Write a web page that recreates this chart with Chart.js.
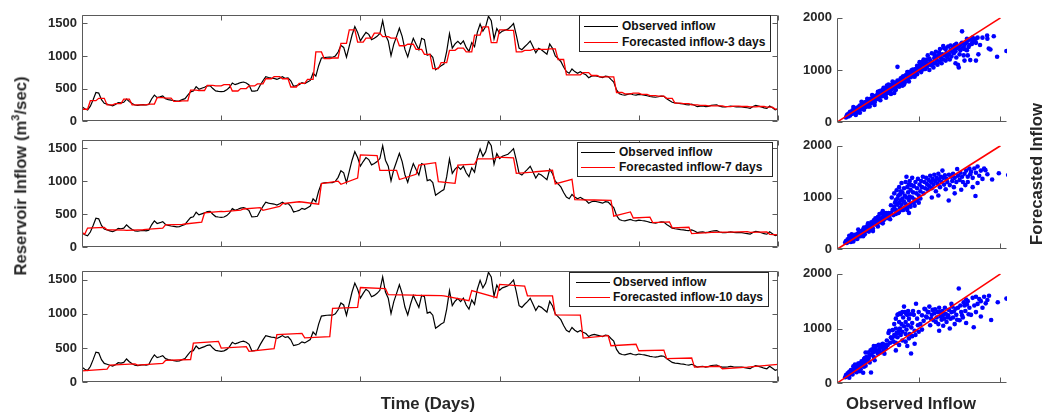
<!DOCTYPE html>
<html>
<head>
<meta charset="utf-8">
<script src="https://cdn.jsdelivr.net/npm/chart.js@4.4.1/dist/chart.umd.min.js"></script>
<style>
body { margin: 0; width: 1043px; height: 418px; background: #fff; position: relative; overflow: hidden; font-family: "Liberation Sans", Arial, sans-serif; color: #262626; }
canvas { position: absolute; }
.lg { position: absolute; border: 1px solid #262626; background: #fff; font-weight: bold; font-size: 12px; color: #111; }
.lg div { position: absolute; left: 0; height: 14px; display: flex; align-items: center; white-space: nowrap; }
.lg i { display: inline-block; width: 34px; height: 0; border-top: 1.5px solid; }
.t { position: absolute; font-weight: bold; font-size: 16.7px; white-space: nowrap; transform: translate(-50%, -50%); }
.t.rot { transform: translate(-50%, -50%) rotate(-90deg); }
</style>
</head>
<body>
<canvas id="p1" width="760" height="132" style="left:30px;top:2px"></canvas>
<canvas id="p2" width="760" height="133" style="left:30px;top:127px"></canvas>
<canvas id="p3" width="760" height="137" style="left:30px;top:258px"></canvas>
<canvas id="s1" width="220" height="130" style="left:792px;top:5px"></canvas>
<canvas id="s2" width="220" height="129" style="left:792px;top:133px"></canvas>
<canvas id="s3" width="220" height="135" style="left:792px;top:261px"></canvas>

<div class="lg" style="left:579px;top:15px;width:190px;height:35px">
  <div style="top:3px"><i style="color:#000;margin:0 4px 0 4px"></i>Observed inflow</div>
  <div style="top:19px"><i style="color:#f00;margin:0 4px 0 4px"></i>Forecasted inflow-3 days</div>
</div>
<div class="lg" style="left:577px;top:142px;width:194px;height:33px">
  <div style="top:2px"><i style="color:#000;margin:0 4px 0 3px"></i>Observed inflow</div>
  <div style="top:17px"><i style="color:#f00;margin:0 4px 0 3px"></i>Forecasted inflow-7 days</div>
</div>
<div class="lg" style="left:569px;top:272px;width:198px;height:33px">
  <div style="top:2px"><i style="color:#000;margin:0 3px 0 6px"></i>Observed inflow</div>
  <div style="top:17px"><i style="color:#f00;margin:0 3px 0 6px"></i>Forecasted inflow-10 days</div>
</div>

<div class="t" style="left:428px;top:404px">Time (Days)</div>
<div class="t" style="left:911px;top:404px">Observed Inflow</div>
<div class="t rot" style="left:20px;top:176px">Reservoir Inflow (m<sup style="font-size:11px">3</sup>/sec)</div>
<div class="t rot" style="left:1037px;top:174px">Forecasted Inflow</div>

<script>
// daily observed inflow, day 0..250
const observed = [
  220,190,172,230,330,440,430,330,275,262,
  248,235,255,285,280,290,340,300,270,248,
  242,250,255,248,258,340,400,360,372,388,
  345,330,322,315,308,312,330,345,400,450,
  462,530,490,505,520,540,545,500,465,458,
  452,458,480,520,585,560,575,592,600,585,
  555,460,462,470,550,620,682,670,660,655,
  640,660,682,655,665,620,535,545,558,590,
  575,600,625,735,690,850,968,975,980,982,
  980,1000,1060,1160,1130,980,1150,1320,1450,1360,
  1230,1300,1360,1330,1250,1270,1300,1345,1540,1320,
  1230,1005,1180,1300,1425,1300,1100,985,1140,1270,
  1180,1095,1270,1250,1010,1026,980,790,820,850,
  875,1070,1340,1120,1185,1225,1180,1230,1130,1070,
  1205,1140,1360,1490,1380,1450,1608,1540,1260,1420,
  1345,1380,1395,1410,1450,1496,1320,1120,1095,1140,
  1180,1228,1140,1050,1116,1095,1060,1026,1183,1116,
  1000,960,915,830,760,735,800,760,735,757,
  730,712,667,690,699,690,680,668,690,684,
  640,600,480,421,405,399,410,421,405,399,
  412,405,399,390,378,372,367,375,385,380,
  345,318,290,280,275,268,264,255,251,262,
  245,222,230,233,222,228,242,248,251,230,
  220,220,225,233,225,220,222,220,212,206,
  198,225,242,232,220,205,197,233,205,175,
  188
];
const days = observed.map((v, i) => i);
const lastDay = days[days.length - 1];
const dayTicks = [0, 50, 100, 150, 200, 250];
const inflowTicks = [0, 500, 1000, 1500];
const scatterTicks = [0, 1000, 2000];

// 3-day forecast, one value per 3-day block
const fc3 = [
  183,314,351,250,270,337,250,250,262,360,
  355,304,310,477,470,548,540,560,463,500,
  540,571,650,684,650,524,580,641,1062,959,
  968,1193,1399,1212,1273,1350,1296,1273,1156,1179,
  1100,1025,805,898,1086,1118,1062,1320,1446,1203,
  1400,1390,1062,1086,1100,1100,1109,945,711,711,
  744,700,679,679,440,420,431,410,393,385,
  350,276,270,250,243,235,234,222,230,225,
  220,225,215,185
];

// 7-day forecast, start and end value of each block (first block is 2 days)
const fc7From = [220,290,265,255,272,340,352,520,540,580,560,660,686,966,955,1400,1167,1027,1246,994,1246,1340,1367,1120,1145,960,723,716,470,443,373,294,205,225,228,225,195];
const fc7To   = [200,300,258,265,290,346,380,545,562,600,620,690,653,1003,1050,1390,1167,1106,1283,970,1260,1340,1355,1140,1167,1030,716,712,535,455,385,303,222,230,235,232,188];

// 10-day forecast, start and end value of each block
const fc10From = [165,250,250,318,572,500,452,695,650,1080,1385,1280,1272,1262,1340,1430,1265,985,645,533,460,345,220,197,225];
const fc10To   = [192,268,276,332,598,520,490,715,668,1095,1370,1275,1268,1192,1236,1405,1262,980,680,555,470,354,233,220,262];

// scatter: [observed, forecasted]
const scatter3d = [
  [120,130],[140,110],[150,170],[170,150],[180,200],[200,170],[210,230],[230,200],[240,260],[250,220],
  [260,190],[270,300],[280,250],[300,270],[300,330],[320,290],[330,360],[340,300],[350,320],[360,390],
  [370,340],[380,300],[390,420],[400,360],[410,380],[420,440],[430,400],[440,470],[450,420],[460,380],
  [470,500],[480,440],[490,520],[500,460],[510,560],[520,480],[530,600],[540,500],[550,530],[560,620],
  [570,560],[580,520],[590,650],[600,580],[610,700],[620,560],[630,620],[640,680],[650,600],[660,710],
  [670,640],[680,720],[690,660],[700,760],[710,680],[720,620],[730,740],[740,1060],[750,700],[760,790],
  [770,720],[780,840],[790,760],[800,700],[810,880],[820,800],[830,760],[840,900],[850,820],[860,960],
  [870,840],[880,780],[890,920],[900,860],[910,990],[920,880],[930,1010],[940,940],[950,870],[960,1020],
  [970,980],[980,920],[990,1060],[1000,990],[1010,1150],[1020,1040],[1030,960],[1040,1100],[1050,1010],[1060,1200],
  [1070,1080],[1080,1020],[1090,1140],[1100,1060],[1110,1280],[1120,1120],[1130,1000],[1140,1180],[1150,1090],[1160,1320],
  [1170,1150],[1180,1050],[1190,1230],[1200,1130],[1210,1350],[1220,1190],[1230,1100],[1240,1270],[1250,1160],[1260,1400],
  [1270,1240],[1280,1130],[1290,1300],[1300,1200],[1310,1420],[1320,1280],[1330,1180],[1340,1330],[1350,1240],[1360,1450],
  [1370,1300],[1380,1200],[1390,1380],[1400,1260],[1420,1440],[1430,1320],[1440,1480],[1450,1360],[1460,1240],[1470,1420],
  [1480,1100],[1490,1050],[1500,1460],[1510,1380],[1520,1500],[1530,1740],[1540,1420],[1550,1280],[1560,1480],[1580,1520],
  [1590,1380],[1600,1560],[1610,1440],[1630,1190],[1640,1580],[1650,1500],[1660,1620],[1680,1560],[1700,1600],[1720,1620],
  [1730,1300],[1750,1480],[1780,1620],[1837,1659],[1857,1412],[1877,1394],[1918,1647],[1959,1253],[2073,1365],[1840,1600],
  [1700,1180],[110,90],[130,150],[160,130],[160,200],[190,170],[190,230],[220,190],[220,260],[250,280],
  [260,230],[280,320],[290,260],[310,300],[320,360],[340,380],[350,290],[360,330],[380,420],[390,350],
  [410,450],[420,370],[440,410],[460,500],[470,430],[490,460],[510,500],[520,590],[540,560],[560,500],
  [580,610],[600,540],[620,650],[640,590],[660,620],[680,780],[700,640],[720,700],[740,800],[760,680],
  [780,720],[800,860],[820,720],[850,900],[870,960],[900,940],[920,1000],[940,880],[960,960],[980,1080],
  [1000,1040],[1020,1100],[1050,1160],[1080,1100],[1100,1200],[1130,1220],[1160,1100],[1190,1300],[1220,1260],[1250,1330],
  [1280,1210],[1300,1460],[1330,1400],[1360,1300],[1390,1470],[1410,1350],[1440,1400],[1460,1500],[1500,1300],[1530,1520],
  [1560,1400],[1590,1600],[1620,1480],[1660,1540],[1700,1520],[1560,1180],[1600,1280],[1450,1130],
  [200,290],[230,140],[280,180],[300,390],[330,240],[370,450],[400,300],[430,520],[460,330],[500,580],
  [530,420],[570,660],[600,470],[630,720],[660,540],[700,560]
];
const scatter7d = [
  [100,130],[110,160],[120,120],[130,190],[140,150],[150,210],[160,170],[170,140],[180,230],[190,190],
  [200,250],[210,210],[220,280],[230,230],[240,200],[250,300],[260,260],[270,330],[280,290],[290,250],
  [300,350],[310,310],[320,380],[330,330],[340,290],[350,420],[360,360],[370,450],[380,400],[390,340],
  [400,480],[410,420],[420,520],[430,460],[440,400],[450,560],[460,500],[470,600],[480,540],[490,470],
  [500,620],[510,560],[520,680],[530,600],[540,520],[550,700],[560,620],[570,560],[580,690],[590,640],
  [600,700],[610,600],[620,660],[630,700],[180,290],[250,200],[330,420],[420,380],[520,520],[560,500],
  [640,640],[650,580],[660,700],[670,1000],[680,760],[690,660],[700,1080],[700,820],[710,900],[720,760],
  [720,950],[730,1140],[740,860],[740,980],[750,700],[750,1040],[760,1200],[760,900],[770,1060],[770,800],
  [780,940],[780,1120],[790,1280],[790,860],[800,1100],[800,980],[810,760],[820,1180],[820,920],[830,1040],
  [840,1300],[840,880],[850,1400],[850,1000],[860,1200],[860,820],[870,1100],[880,950],[880,1250],[890,1320],
  [890,1020],[900,1150],[900,880],[910,1240],[920,1000],[920,1380],[930,1100],[940,1220],[950,960],[960,1300],
  [970,1080],[980,1180],[990,1360],[1000,1040],[660,850],
  [1010,1250],[1020,1120],[1030,1320],[1040,1200],[1050,1400],[1060,1080],[1070,1300],[1080,1180],[1090,1380],[1100,1260],
  [1110,1150],[1120,1340],[1130,1220],[1140,1420],[1150,1300],[1160,1180],[1170,1360],[1180,1250],[1190,1440],[1200,1320],
  [1210,1120],[1220,1380],[1230,1270],[1240,1460],[1250,1340],[1260,1200],[1270,1400],[1280,1300],[1290,1520],[1300,1380],
  [1310,1250],[1320,1430],[1330,1160],[1340,1360],[1350,1300],[1367,941],[1370,1440],[1380,1240],[1400,1400],[1410,1320],
  [1420,1460],[1430,1200],[1440,1380],[1460,1300],[1470,1550],[1480,1420],[1500,1340],[1510,1480],[1520,1150],[1530,1400],
  [1540,1300],[1560,1460],[1570,1240],[1580,1520],[1600,1400],[1620,1560],[1440,1080],[1240,1040],[1160,1000],
  [1630,1450],[1640,1500],[1660,1380],[1680,1560],[1694,1029],[1700,1480],[1720,1600],[1740,1420],[1760,1520],[1780,1360],
  [1800,1560],[1816,1529],[1840,1450],[1898,1347],[1980,1470],[2094,1435],[1600,1300],[1660,1200],[1720,1280],
  [720,680],[760,720],[800,760],[830,800],[860,760],[900,820],[940,900],[980,940],[1020,980],[880,700],
  [950,840],[1000,900],[150,260],[200,150],[260,380],[320,250],[380,500],[440,350],[500,440],[560,740]
];
const scatter10d = [
  [100,110],[110,150],[120,130],[130,180],[140,150],[150,210],[160,170],[170,240],[180,200],[190,160],
  [200,260],[210,220],[220,300],[230,250],[240,200],[250,330],[260,280],[270,360],[280,310],[290,250],
  [300,400],[310,340],[320,190],[330,440],[340,380],[350,320],[360,480],[370,420],[380,560],[390,460],
  [400,380],[410,600],[420,520],[430,620],[440,560],[450,480],[460,640],[470,580],[480,680],[490,600],
  [500,540],[510,700],[520,620],[530,560],[540,700],[550,660],[560,720],[570,600],[580,700],[600,640],
  [416,196],[260,360],[330,300],[200,310],[350,560],[450,680],
  [610,780],[620,700],[630,920],[640,960],[650,740],[660,840],[670,820],[680,970],[690,760],[700,1080],
  [700,880],[710,860],[720,1000],[720,1180],[730,920],[740,1250],[740,840],[750,920],[750,1260],[760,1120],
  [760,960],[770,1000],[770,1280],[780,1260],[780,880],[790,1080],[800,940],[800,1300],[810,1200],[820,1040],
  [820,1400],[830,1300],[840,1120],[840,900],[850,980],[850,1260],[860,1250],[870,1060],[870,1320],[880,1180],
  [890,900],[900,1260],[906,542],[910,1020],[920,1100],[930,1320],[940,1250],[950,960],[967,1452],[980,1180],
  [990,1060],[1000,1300],[1020,1080],[1040,1240],[720,600],[860,680],[950,720],
  [1060,1140],[1070,1360],[1080,1350],[1090,1220],[1100,1200],[1110,1300],[1120,1300],[1130,1400],[1140,1060],[1150,1180],
  [1160,1250],[1170,1340],[1180,1150],[1190,1280],[1200,1350],[1210,1120],[1220,1200],[1230,1300],[1240,1080],[1250,1380],
  [1260,1300],[1270,1220],[1280,1160],[1290,1320],[1300,1250],[1310,1180],[1320,1380],[1330,1270],[1340,1120],[1350,1200],
  [1360,1240],[1370,1340],[1380,1000],[1390,1180],[1400,1300],[1410,1400],[1420,1200],[1430,1310],[1440,1080],[1450,1360],
  [1460,1250],[1470,1160],[1480,1380],[1490,1732],[1500,1150],[1510,1420],[1520,1300],[1530,1240],[1540,1200],[1550,1480],
  [1560,1420],[1570,1320],[1580,1100],[1590,1440],[1600,1500],[1610,1260],[1620,1380],[1640,1250],[1400,1450],[1580,1530],
  [1300,1050],[1250,960],
  [1660,1560],[1673,1022],[1680,1420],[1700,1580],[1720,1450],[1740,1540],[1760,1500],[1780,1380],[1800,1580],[1820,1460],
  [1840,1520],[1860,1600],[1886,1156],[1967,1480],[2073,1547],[1700,1300],[1760,1220],
  [720,740],[760,700],[800,780],[840,760],[880,820],[920,860],[960,880],[1000,940],[1040,980],[150,100],
  [220,340],[280,220],[340,460],[400,520],[460,420],[520,680],[580,540]
];
const oneToOne = [0, 2000];

const tickFont = { family: '"Liberation Sans", Arial, sans-serif', weight: 'bold', size: 13 };
const inkColor = '#262626';

// forecast blocks -> line points (start and end of each block)
function blockPoints(from, to, len, first) {
  const pts = [];
  let s = 0;
  from.forEach((v, k) => {
    const n = k === 0 ? first : len;
    const e = k === from.length - 1 ? lastDay : Math.min(s + n - 1, lastDay);
    pts.push({ x: s, y: v }, { x: e, y: to[k] });
    s += n;
  });
  return pts;
}

const setTicks = list => s => { s.ticks = list.map(v => ({ value: v })); };

// MATLAB-like frame with inward ticks
const axesFrame = {
  id: 'axesFrame',
  afterDraw(chart, args, opts) {
    const { ctx, chartArea: a, scales } = chart;
    const L = Math.round(a.left) + 0.5, R = Math.round(a.right) - 0.5;
    const T = Math.round(a.top) + 0.5, B = Math.round(a.bottom) - 0.5;
    ctx.save();
    ctx.strokeStyle = '#5a5a5a';
    ctx.lineWidth = 1;
    ctx.beginPath();
    ctx.moveTo(L, T); ctx.lineTo(L, B); ctx.lineTo(R, B);
    if (opts.box) { ctx.lineTo(R, T); ctx.lineTo(L, T); }
    scales.y.ticks.forEach(t => {
      const p = Math.round(scales.y.getPixelForValue(t.value)) + 0.5;
      ctx.moveTo(L, p); ctx.lineTo(L + 5, p);
      if (opts.box) { ctx.moveTo(R, p); ctx.lineTo(R - 5, p); }
    });
    scales.x.ticks.forEach(t => {
      const p = Math.round(scales.x.getPixelForValue(t.value)) + 0.5;
      ctx.moveTo(p, B); ctx.lineTo(p, B - 5);
      if (opts.box) { ctx.moveTo(p, T); ctx.lineTo(p, T + 5); }
    });
    ctx.stroke();
    ctx.restore();
  }
};

function linePanel(id, fcPoints) {
  new Chart(document.getElementById(id), {
    type: 'line',
    data: {
      datasets: [
        { data: fcPoints, borderColor: '#ff0000', borderWidth: 1.3, pointRadius: 0, tension: 0 },
        { data: observed.map((v, i) => ({ x: days[i], y: v })), borderColor: '#000000', borderWidth: 1.2, pointRadius: 0, tension: 0 }
      ]
    },
    options: {
      responsive: false, animation: false, events: [],
      layout: { padding: { top: 8, bottom: 8, left: 0, right: 12 } },
      plugins: { legend: { display: false }, tooltip: { enabled: false }, axesFrame: { box: true } },
      scales: {
        x: {
          type: 'linear', min: 0, max: 250,
          ticks: { display: false },
          grid: { display: false, drawTicks: false }, border: { display: false },
          afterBuildTicks: setTicks(dayTicks),
          afterFit: s => { s.height = 0; }
        },
        y: {
          min: 0, max: 1630,
          ticks: { padding: 5, color: inkColor, font: tickFont, callback: v => String(v) },
          grid: { display: false, drawTicks: false }, border: { display: false },
          afterBuildTicks: setTicks(inflowTicks),
          afterFit: s => { s.width = 52; }
        }
      }
    },
    plugins: [axesFrame]
  });
}

function scatterPanel(id, pairs) {
  new Chart(document.getElementById(id), {
    type: 'scatter',
    data: {
      datasets: [
        { type: 'line', data: oneToOne.map(v => ({ x: v, y: v })), borderColor: '#ff0000', borderWidth: 1.6, pointRadius: 0 },
        { data: pairs.map(p => ({ x: p[0], y: p[1] })), backgroundColor: '#0000ff', borderWidth: 0, pointRadius: 2.3 }
      ]
    },
    options: {
      responsive: false, animation: false, events: [],
      layout: { padding: { top: 8, bottom: 8, left: 0, right: 5 } },
      plugins: { legend: { display: false }, tooltip: { enabled: false }, axesFrame: { box: false } },
      scales: {
        x: {
          type: 'linear', min: 0, max: 2080,
          ticks: { display: false },
          grid: { display: false, drawTicks: false }, border: { display: false },
          afterBuildTicks: setTicks(scatterTicks),
          afterFit: s => { s.height = 0; }
        },
        y: {
          min: 0, max: 2000,
          ticks: { padding: 5, color: inkColor, font: tickFont, callback: v => String(v) },
          grid: { display: false, drawTicks: false }, border: { display: false },
          afterBuildTicks: setTicks(scatterTicks),
          afterFit: s => { s.width = 45; }
        }
      }
    },
    plugins: [axesFrame]
  });
}

linePanel('p1', blockPoints(fc3, fc3, 3, 3));
linePanel('p2', blockPoints(fc7From, fc7To, 7, 2));
linePanel('p3', blockPoints(fc10From, fc10To, 10, 10));
scatterPanel('s1', scatter3d);
scatterPanel('s2', scatter7d);
scatterPanel('s3', scatter10d);
</script>
</body>
</html>
